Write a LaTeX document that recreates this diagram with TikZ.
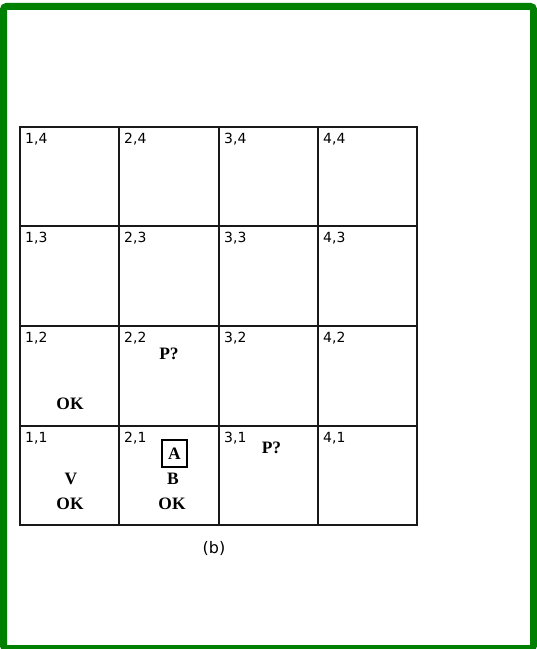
\documentclass[tikz,border=0pt]{standalone}
\usepackage{fontspec}
\setmainfont{DejaVu Sans}
\newfontfamily\symfont{Liberation Serif}
\definecolor{frame}{RGB}{0,128,0}
\begin{document}
\begin{tikzpicture}[x=1bp,y=-1bp,
  gridline/.style={line width=1.9bp,black!90,line cap=rect},
  coord/.style={anchor=base west,inner sep=0pt,font=\fontsize{14}{15}\selectfont},
  sym/.style={inner sep=0pt,font=\symfont\bfseries\fontsize{17.5}{18}\selectfont},
  agent/.style={draw,line width=1.6bp,minimum width=25bp,minimum height=27bp,inner sep=0pt,font=\symfont\bfseries\fontsize{17.5}{18}\selectfont}]
\useasboundingbox (0,0) rectangle (537,649);
\fill[white] (0,0) rectangle (537,649);
\draw[frame,line width=7bp,rounded corners=3bp] (3.5,6.5) rectangle (533.5,648.5);
% grid
\foreach \x in {20,119,219,318,417} \draw[gridline] (\x,127) -- (\x,525);
\foreach \y in {127,226,326,426,525} \draw[gridline] (20,\y) -- (417,\y);
% coordinate labels
\foreach \i/\xl in {1/20,2/119,3/219,4/318}{
  \foreach \j/\yt in {1/426,2/326,3/226,4/127}{
    \node[coord] (c\i\j) at (\xl+5,\yt+16.5) {\i,\j};
  }
}
% contents
\node[sym] (ok12) at (70,403.5) {OK};
\node[sym] (v11) at (71,478.5) {V};
\node[sym] (ok11) at (70,503.5) {OK};
\node[agent] (a21) at (174.5,453.5) {A};
\node[sym] (b21) at (173,478.5) {B};
\node[sym] (ok21) at (172,503.5) {OK};
\node[sym] (p22) at (169,354) {P?};
\node[sym] (p31) at (271.5,447.5) {P?};
\node[inner sep=0pt,font=\fontsize{16}{17}\selectfont] (cap) at (214,548.5) {(b)};
\end{tikzpicture}
\end{document}
